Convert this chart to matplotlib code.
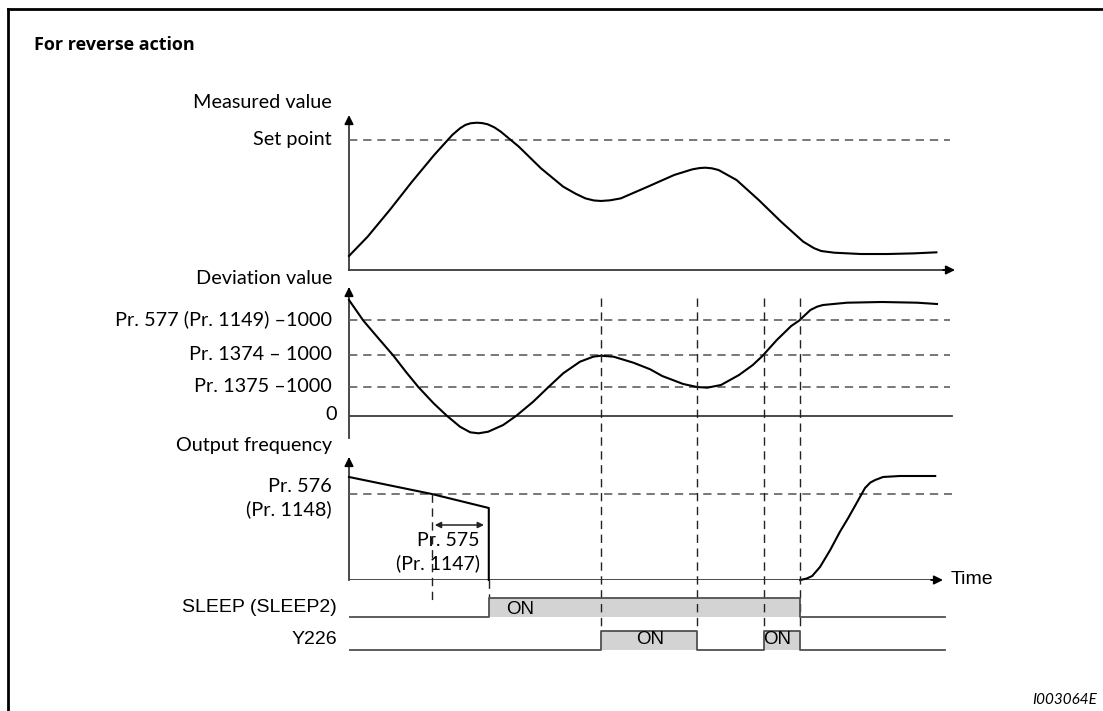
import matplotlib.pyplot as plt
from matplotlib.transforms import blended_transform_factory as blend
from matplotlib.lines import Line2D

plt.rcParams['font.family'] = ['Lato', 'DejaVu Sans']

W, H = 1103, 711

# Measured value (set point = 100)
meas_t = [0, 3.1, 6.8, 10.5, 14.2, 17.2, 18.5, 19.4, 20.3, 21.3, 22.2, 23.1, 24.2, 25.3, 28.3,
          32.0, 35.7, 37.8, 39.4, 40.8, 42.0, 43.5, 45.3, 49.8, 54.2, 57.2, 58.4, 59.4, 60.5,
          61.6, 64.6, 68.3, 72.0, 75.7, 77.5, 78.7, 80.9, 85.3, 89.8, 94.2, 97.9]
meas_v = [10.8, 25.6, 46.2, 67.9, 88.5, 103.8, 109.0, 111.6, 112.9, 113.3, 113.0, 112.1, 109.8, 106.4, 94.9,
          78.2, 64.1, 58.6, 55.1, 53.5, 53.1, 53.6, 55.1, 64.1, 73.1, 77.4, 78.4, 78.7, 78.2,
          76.9, 69.2, 53.8, 37.2, 21.8, 16.8, 14.6, 13.3, 12.3, 12.3, 12.8, 13.6]
set_point = 100

# Deviation value
dev_t = [0, 2.4, 4.9, 7.4, 9.6, 11.6, 14.1, 16.3, 18.5, 20.2, 21.6, 23.2, 25.7, 27.9, 30.7,
         33.2, 35.7, 38.5, 40.7, 42.0, 44.1, 47.4, 50.2, 52.2, 55.7, 58.0, 59.7, 62.0, 65.0,
         67.3, 68.9, 71.3, 73.7, 75.0, 76.9, 78.0, 79.0, 83.0, 88.8, 94.7, 98.0]
dev_v = [116, 95.3, 77.7, 60.3, 43.3, 28.7, 12.7, 0.3, -10.7, -16.3, -17.3, -15.7, -9, 0.3, 14.3,
         28.7, 42.7, 54.3, 59.3, 60.3, 59.3, 53.3, 46.7, 40, 32, 29, 28.3, 31, 41,
         51, 60, 76, 90, 95.3, 106, 109.3, 111, 113.3, 114, 113.3, 112]
dev_levels = [96, 61, 29]
dev_labels = ["Pr. 577 (Pr. 1149) \u20131000", "Pr. 1374 \u2013 1000", "Pr. 1375 \u20131000"]

# Output frequency: before sleep, and restart after wake-up
freq_stop_t = [0, 13.8, 23.3, 23.3]
freq_stop_v = [103, 86, 72, 0]
freq_wake_t = [75.2, 76.3, 77.2, 78.5, 80.2, 81.8, 83.2, 84.7, 86.0, 86.9, 87.7, 89.0, 91.8, 97.7]
freq_wake_v = [0, 1.5, 4, 13, 30, 48, 62, 78, 92, 97.5, 100, 103, 104, 104]
freq_level = 86

# events
t_pr576 = 13.8
t_sleep = 23.3
t_events = [42.0, 58.0, 69.2, 75.2]
t_end = 99.3

sleep_t = [0, 23.3, 75.2, t_end]
sleep_s = [0, 1, 0, 0]
y226_t = [0, 42.0, 58.0, 69.2, 75.2, t_end]
y226_s = [0, 1, 0, 1, 0, 0]


def fbox(x0, y0, x1, y1):
    return [x0 / W, 1 - y1 / H, (x1 - x0) / W, (y1 - y0) / H]


def fy(y):
    return 1 - y / H


fig = plt.figure(figsize=(W / 100, H / 100), dpi=100)

ax_m = fig.add_axes(fbox(349, 105, 955, 270))
ax_d = fig.add_axes(fbox(349, 280, 955, 438))
ax_f = fig.add_axes(fbox(349, 450, 955, 580))
ax_s = fig.add_axes(fbox(349, 590, 955, 655))
ax_m.set_ylim(0, 165 / 1.3)
ax_d.set_ylim(-22, 136)
ax_f.set_ylim(0, 130)
ax_s.set_ylim(0, 65)
for ax in (ax_m, ax_d, ax_f, ax_s):
    ax.set_xlim(0, 101)
    ax.set_axis_off()

axis_col = '#3a3a3a'
dash_col = '#606060'
arrow = dict(arrowstyle='-|>', color='black', lw=1.3, mutation_scale=13,
             shrinkA=0, shrinkB=0)


def vaxis(ax, lo, hi):
    ax.plot([0, 0], [lo, hi - 3], color=axis_col, lw=1.3, clip_on=False)
    ax.annotate('', xy=(0, hi), xytext=(0, hi - 4), arrowprops=arrow, annotation_clip=False)


# measured value panel
vaxis(ax_m, 0, 119.2)
ax_m.plot([0, 100], [0, 0], color=axis_col, lw=1.3, clip_on=False)
ax_m.annotate('', xy=(101, 0), xytext=(99, 0), arrowprops=arrow, annotation_clip=False)
ax_m.plot([0, 100.2], [set_point, set_point], color=dash_col, lw=1.2, ls=(0, (5, 3.5)))
ax_m.plot(meas_t, meas_v, color='black', lw=1.5, clip_on=False, solid_joinstyle='round')

# deviation panel
vaxis(ax_d, -22, 129)
ax_d.plot([0, 100.5], [0, 0], color=axis_col, lw=1.3)
for lv in dev_levels:
    ax_d.plot([0, 100.2], [lv, lv], color=dash_col, lw=1.2, ls=(0, (5, 3.5)))
ax_d.plot(dev_t, dev_v, color='black', lw=1.5, clip_on=False, solid_joinstyle='round')

# output frequency panel
vaxis(ax_f, 0, 123)
ax_f.plot([0, 97.5], [0, 0], color=axis_col, lw=1.3)
ax_f.annotate('', xy=(99, 0), xytext=(97, 0), arrowprops=arrow, annotation_clip=False)
ax_f.plot([0, 100.5], [freq_level, freq_level], color=dash_col, lw=1.2, ls=(0, (5, 3.5)))
ax_f.plot(freq_stop_t, freq_stop_v, color='black', lw=1.5, clip_on=False)
ax_f.plot(freq_wake_t, freq_wake_v, color='black', lw=1.5, clip_on=False,
          solid_joinstyle='round')
ax_f.annotate('', xy=(14.3, 55), xytext=(22.5, 55),
              arrowprops=dict(arrowstyle='<|-|>', color='#222222', lw=1.1, mutation_scale=9,
                              shrinkA=0, shrinkB=0))
ax_f.text(21.8, 40, 'Pr. 575', ha='right', va='center', fontsize=14)
ax_f.text(21.8, 17, '(Pr. 1147)', ha='right', va='center', fontsize=14)
ax_f.text((951 - 349) / 6, 0, 'Time', ha='left', va='center', fontsize=14,
          family='Liberation Sans')

# signal panel
sleep_base, y226_base, hgt = 38, 5, 19
sig_col = '#505050'
for tt, ss, base in ((sleep_t, sleep_s, sleep_base), (y226_t, y226_s, y226_base)):
    lv = [base + hgt * s for s in ss]
    ax_s.fill_between(tt, base, lv, step='post', color='#d3d3d3', lw=0, zorder=1)
    ax_s.step(tt, lv, where='post', color=sig_col, lw=1.3, zorder=3)
ax_s.text(28.5, 46, 'ON', ha='center', va='center', fontsize=13.5, family='Liberation Sans', zorder=4)
ax_s.text(50.2, 15, 'ON', ha='center', va='center', fontsize=13.5, family='Liberation Sans', zorder=4)
ax_s.text(71.3, 15, 'ON', ha='center', va='center', fontsize=13.5, family='Liberation Sans', zorder=4)

# vertical dashed guide lines
vtr = blend(ax_d.transData, fig.transFigure)
vdash = dict(color='#222222', lw=1.0, ls=(0, (6, 4)), clip_on=False, zorder=2)
for t in t_events:
    ax_s.plot([t, t], [fy(298), fy(631)], transform=vtr, **vdash)
ax_s.plot([t_pr576, t_pr576], [fy(494), fy(602)], transform=vtr, **vdash)
ax_s.plot([t_sleep, t_sleep], [fy(580), fy(598)], transform=vtr, **vdash)

# left-hand labels
lab_x = 332 / W
fig.text(lab_x, fy(103), 'Measured value', ha='right', va='center', fontsize=14.3)
fig.text(lab_x, set_point, 'Set point', ha='right', va='center', fontsize=14.3,
         transform=blend(fig.transFigure, ax_m.transData))
fig.text(lab_x, fy(279), 'Deviation value', ha='right', va='center', fontsize=14.3)
dtr = blend(fig.transFigure, ax_d.transData)
for lv, lb in zip(dev_levels, dev_labels):
    fig.text(lab_x, lv + 1, lb, ha='right', va='center', fontsize=14.3, transform=dtr)
fig.text(337 / W, 2, '0', ha='right', va='center', fontsize=14.3, transform=dtr)
fig.text(lab_x, fy(445), 'Output frequency', ha='right', va='center', fontsize=14.3)
fig.text(lab_x, fy(487), 'Pr. 576', ha='right', va='center', fontsize=14.3)
fig.text(lab_x, fy(509), '(Pr. 1148)', ha='right', va='center', fontsize=14.3)
str_ = blend(fig.transFigure, ax_s.transData)
fig.text(337 / W, sleep_base + 9, 'SLEEP (SLEEP2)', ha='right', va='center', fontsize=14,
         family='Liberation Sans', transform=str_)
fig.text(337 / W, y226_base + 10, 'Y226', ha='right', va='center', fontsize=14,
         family='Liberation Sans', transform=str_)

# title, frame and figure id
fig.text(34 / W, fy(45), 'For reverse action', ha='left', va='center', fontsize=13,
         weight='bold', family='Open Sans')
fig.text(1097 / W, fy(700), 'I003064E', ha='right', va='center', fontsize=11, style='italic')
fig.add_artist(Line2D([8 / W, 8 / W], [0, fy(9)], color='black', lw=2))
fig.add_artist(Line2D([8 / W, 1], [fy(9), fy(9)], color='black', lw=2))

fig.savefig('out.png', dpi=100)
